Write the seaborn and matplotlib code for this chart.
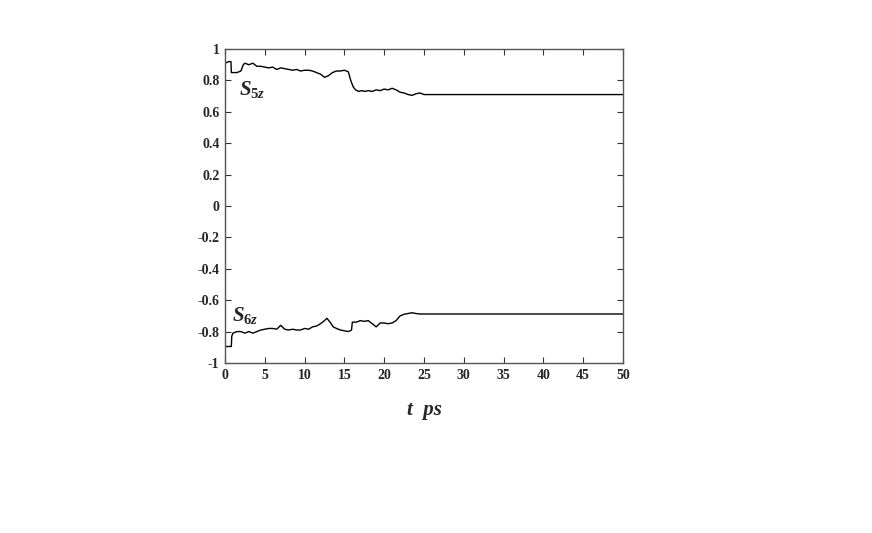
import numpy as np
import pandas as pd
import seaborn as sns
import matplotlib.pyplot as plt

# S5z trace
t5 = [0, 0.5, 0.75, 0.8, 1.5, 2.0, 2.3, 2.5, 3.0, 3.5, 4.0, 4.5, 5.0, 5.5, 6.0,
      6.5, 7.0, 7.5, 8.0, 8.5, 9.0, 9.5, 10.0, 10.5, 11.0, 11.5, 12.0, 12.5,
      13.0, 13.5, 14.0, 14.5, 15.0, 15.5, 15.8, 16.1, 16.4, 16.8, 17.2,
      17.6, 18.0, 18.5, 19.0, 19.5, 20.0, 20.5, 21.0, 21.5, 22.0, 22.5,
      23.0, 23.5, 24.0, 24.5, 25.0, 50.0]
s5 = [0.91, 0.92, 0.92, 0.85, 0.85, 0.86, 0.90, 0.91, 0.90, 0.91, 0.89, 0.89,
      0.885, 0.88, 0.885, 0.87, 0.88, 0.875, 0.87, 0.865, 0.87, 0.86, 0.865,
      0.865, 0.86, 0.85, 0.84, 0.82, 0.83, 0.85, 0.86, 0.86, 0.865, 0.855,
      0.80, 0.76, 0.74, 0.73, 0.735, 0.73, 0.735, 0.73, 0.74, 0.735, 0.745,
      0.74, 0.75, 0.74, 0.725, 0.72, 0.71, 0.705, 0.715, 0.72, 0.71, 0.71]

# S6z trace
t6 = [0, 0.8, 0.85, 1.0, 1.5, 2.0, 2.5, 3.0, 3.5, 4.0, 4.5, 5.0, 5.5, 6.0, 6.5,
      7.0, 7.5, 8.0, 8.5, 9.0, 9.5, 10.0, 10.5, 11.0, 11.5, 12.0, 12.5,
      12.8, 13.2, 13.6, 14.0, 14.5, 15.0, 15.5, 15.9, 16.0, 16.5, 17.0,
      17.5, 18.0, 18.5, 19.0, 19.5, 20.0, 20.5, 21.0, 21.5, 22.0, 22.5,
      23.0, 23.5, 24.0, 24.5, 25.0, 50.0]
s6 = [-0.895, -0.895, -0.83, -0.81, -0.80, -0.80, -0.81, -0.80, -0.81, -0.80,
      -0.79, -0.785, -0.78, -0.78, -0.785, -0.76, -0.785, -0.79, -0.785,
      -0.79, -0.79, -0.78, -0.785, -0.77, -0.765, -0.75, -0.73, -0.715,
      -0.74, -0.77, -0.78, -0.79, -0.795, -0.80, -0.79, -0.74, -0.74, -0.73,
      -0.735, -0.73, -0.75, -0.77, -0.745, -0.745, -0.75, -0.745, -0.73,
      -0.70, -0.69, -0.685, -0.68, -0.685, -0.688, -0.688, -0.688]

x_ticks = [0, 5, 10, 15, 20, 25, 30, 35, 40, 45, 50]
y_ticks = [-1, -0.8, -0.6, -0.4, -0.2, 0, 0.2, 0.4, 0.6, 0.8, 1]
y_labels = ['-1', '-0.8', '-0.6', '-0.4', '-0.2', '0', '0.2', '0.4', '0.6', '0.8', '1']

sns.set_style('ticks')
plt.rcParams['font.family'] = ['Liberation Serif', 'DejaVu Serif']
plt.rcParams['mathtext.fontset'] = 'custom'
plt.rcParams['mathtext.it'] = 'Liberation Serif:italic:bold'
plt.rcParams['mathtext.rm'] = 'Liberation Serif:bold'

fig = plt.figure(figsize=(8.72, 5.33), dpi=100)
ax = fig.add_axes([0.258, 0.319, 0.4564, 0.589])

d5 = pd.DataFrame({'t': t5, 's': s5})
d6 = pd.DataFrame({'t': t6, 's': s6})
sns.lineplot(data=d5, x='t', y='s', ax=ax, color='black', lw=1.0,
             estimator=None, sort=False)
sns.lineplot(data=d6, x='t', y='s', ax=ax, color='black', lw=1.0,
             estimator=None, sort=False)

ax.set_xlim(0, 50)
ax.set_ylim(-1, 1)
ax.set_xticks(x_ticks)
ax.set_xticklabels([str(v) for v in x_ticks], fontsize=10, fontweight='bold')
ax.set_yticks(y_ticks)
ax.set_yticklabels(y_labels, fontsize=10, fontweight='bold')
ax.tick_params(direction='in', length=4, width=0.8, top=True, right=True,
               color='#333333', pad=4)
for sp in ax.spines.values():
    sp.set_visible(True)
    sp.set_color('#555555')
    sp.set_linewidth(1.0)

ax.set_xlabel('t  ps', fontsize=15, fontweight='bold', fontstyle='italic',
              labelpad=13)
ax.set_ylabel('')

ax.text(1.8, 0.74, r'$S_{5z}$', fontsize=15, ha='left', va='center')
ax.text(0.9, -0.70, r'$S_{6z}$', fontsize=15, ha='left', va='center')

fig.savefig('out.png', dpi=100)
